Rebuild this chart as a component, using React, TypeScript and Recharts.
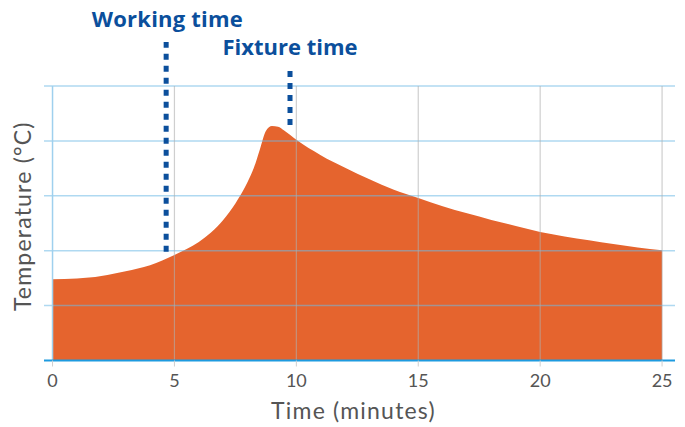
import React from "react";
import {
  Area,
  AreaChart,
  Label,
  ReferenceDot,
  ReferenceLine,
  XAxis,
  YAxis,
} from "recharts";

// time after mixing (minutes) and relative temperature
const timeMinutes = [
  0, 1, 1.5, 2, 2.5, 3, 3.5, 4, 4.5, 5, 5.5, 6, 6.5, 7, 7.5, 8, 8.25, 8.5,
  8.75, 9, 9.25, 9.5, 10, 11, 12, 13, 14, 15, 16, 17, 18, 19, 20, 21, 22, 23,
  24, 25,
];
const temperature = [
  1.48, 1.495, 1.51, 1.54, 1.58, 1.625, 1.675, 1.735, 1.82, 1.92, 2.03, 2.16,
  2.33, 2.56, 2.86, 3.25, 3.5, 3.84, 4.18, 4.27, 4.26, 4.19, 4.02, 3.74, 3.51,
  3.3, 3.11, 2.96, 2.81, 2.68, 2.56, 2.45, 2.34, 2.26, 2.19, 2.12, 2.06, 2.01,
];

const xTicks = [0, 5, 10, 15, 20, 25];
const yGrid = [1, 2, 3, 4, 5];

// marker lines: time and temperature span of each dotted line
const workingTime = 4.66;
const workingSpan = [1.98, 5.8];
const fixtureTime = 9.74;
const fixtureSpan = [4.29, 5.29];

const data = timeMinutes.map((t, i) => ({ t, temp: temperature[i] }));

const ORANGE = "#e5642e";
const NAVY = "#0b4f9c";
const GRID_BLUE = "rgba(110,185,230,0.55)";
const GRID_GREY = "rgba(175,175,175,0.6)";
const TEXT = "#555555";

export default function App() {
  return (
    <div style={{ position: "absolute", top: 0, left: 0, width: 685, height: 427, background: "#fff" }}>
      <AreaChart
        width={685}
        height={427}
        data={data}
        margin={{ top: 86, right: 10, left: 0, bottom: 0 }}
      >
        <XAxis
          dataKey="t"
          type="number"
          domain={[-0.35, 25.53]}
          allowDataOverflow
          ticks={xTicks}
          height={66.5}
          tickSize={6}
          tickLine={{ stroke: "#cfcfcf" }}
          axisLine={{ stroke: "#1e9be0", strokeWidth: 2 }}
          tick={{ fill: TEXT, fontSize: 18, fontFamily: "Lato" }}
          tickMargin={8}
        >
          <Label
            value="Time (minutes)"
            position="insideBottom"
            offset={8}
            dx={-6}
            style={{ fill: TEXT, fontSize: 23, fontFamily: "Lato", letterSpacing: 1.2 }}
          />
        </XAxis>
        <YAxis
          type="number"
          domain={[0, 5]}
          allowDataOverflow
          width={44}
          tick={false}
          tickLine={false}
          axisLine={false}
        >
          <Label
            value="Temperature (°C)"
            angle={-90}
            position="center"
            dx={1}
            dy={-7}
            style={{
              fill: TEXT,
              fontSize: 23,
              fontFamily: "Lato",
              letterSpacing: 1.2,
              textAnchor: "middle",
            }}
          />
        </YAxis>
        <Area
          type="monotone"
          dataKey="temp"
          stroke="none"
          fill={ORANGE}
          fillOpacity={1}
          isAnimationActive={false}
        />
        {yGrid.map((v) => (
          <ReferenceLine key={`h${v}`} y={v} stroke={GRID_BLUE} strokeWidth={1.5} />
        ))}
        {xTicks.slice(1).map((v) => (
          <ReferenceLine key={`v${v}`} x={v} stroke={GRID_GREY} strokeWidth={1.2} />
        ))}
        <ReferenceLine x={0} stroke="#9fd0ee" strokeWidth={1.5} />
        <ReferenceLine
          segment={[
            { x: workingTime, y: workingSpan[0] },
            { x: workingTime, y: workingSpan[1] },
          ]}
          ifOverflow="visible"
          stroke={NAVY}
          strokeWidth={5}
          strokeDasharray="6 6"
        />
        <ReferenceLine
          segment={[
            { x: fixtureTime, y: fixtureSpan[0] },
            { x: fixtureTime, y: fixtureSpan[1] },
          ]}
          ifOverflow="visible"
          stroke={NAVY}
          strokeWidth={5}
          strokeDasharray="6 6"
        />
        <ReferenceDot
          x={workingTime + 0.05}
          y={6.22}
          r={0}
          ifOverflow="visible"
          label={{
            value: "Working time",
            position: "center",
            fill: NAVY,
            fontSize: 22,
            fontWeight: 700,
            fontFamily: "Open Sans",
            letterSpacing: 0.2,
          }}
        />
        <ReferenceDot
          x={fixtureTime}
          y={5.71}
          r={0}
          ifOverflow="visible"
          label={{
            value: "Fixture time",
            position: "center",
            fill: NAVY,
            fontSize: 22,
            fontWeight: 700,
            fontFamily: "Open Sans",
          }}
        />
      </AreaChart>
    </div>
  );
}
